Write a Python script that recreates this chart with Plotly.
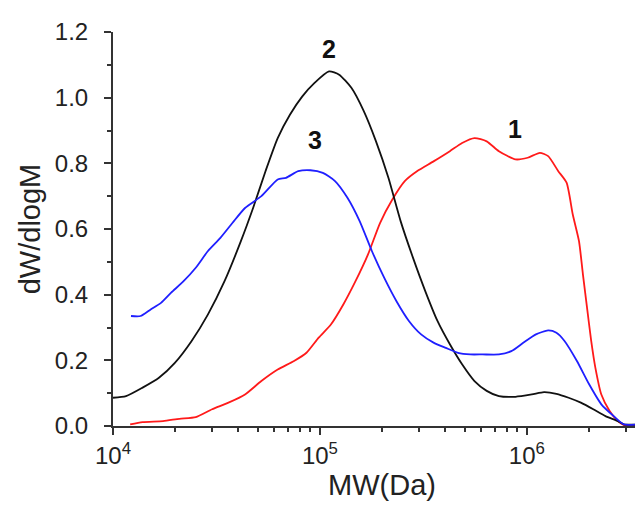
import plotly.graph_objects as go

# log10(MW) and dW/dlogM
logm_1 = [4.083, 4.143, 4.242, 4.321, 4.40, 4.479, 4.558, 4.638, 4.717, 4.796, 4.875, 4.935,
          4.994, 5.053, 5.113, 5.172, 5.232, 5.291, 5.350, 5.41, 5.469, 5.549, 5.628, 5.687,
          5.747, 5.806, 5.865, 5.945, 6.004, 6.063, 6.103, 6.152, 6.192, 6.222, 6.252, 6.271,
          6.291, 6.311, 6.331, 6.36, 6.40, 6.44, 6.469, 6.52, 6.578]
dw_1 = [0.005, 0.012, 0.015, 0.022, 0.027, 0.051, 0.071, 0.096, 0.137, 0.172, 0.198, 0.223,
        0.269, 0.309, 0.370, 0.441, 0.522, 0.619, 0.690, 0.746, 0.776, 0.806, 0.837, 0.862,
        0.877, 0.867, 0.837, 0.812, 0.817, 0.832, 0.822, 0.776, 0.741, 0.644, 0.563, 0.462,
        0.360, 0.259, 0.178, 0.096, 0.046, 0.015, 0.003, 0.003, 0.005]

logm_2 = [4.0, 4.063, 4.143, 4.222, 4.30, 4.38, 4.459, 4.539, 4.618, 4.677, 4.737, 4.796,
          4.855, 4.915, 4.974, 5.044, 5.093, 5.152, 5.212, 5.271, 5.331, 5.390, 5.450, 5.509,
          5.568, 5.628, 5.687, 5.747, 5.806, 5.865, 5.945, 6.024, 6.083, 6.143, 6.202, 6.261,
          6.321, 6.380, 6.44, 6.469, 6.538]
dw_2 = [0.086, 0.091, 0.117, 0.147, 0.193, 0.259, 0.340, 0.441, 0.563, 0.664, 0.776, 0.877,
        0.948, 1.004, 1.045, 1.080, 1.070, 1.030, 0.959, 0.867, 0.756, 0.624, 0.512, 0.411,
        0.320, 0.249, 0.188, 0.137, 0.107, 0.091, 0.089, 0.096, 0.103, 0.098, 0.086, 0.071,
        0.051, 0.030, 0.015, 0.005, 0.004]

logm_3 = [4.087, 4.133, 4.182, 4.232, 4.281, 4.341, 4.40, 4.459, 4.519, 4.578, 4.638, 4.717,
          4.796, 4.836, 4.895, 4.954, 5.014, 5.073, 5.133, 5.192, 5.251, 5.311, 5.370, 5.43,
          5.489, 5.549, 5.608, 5.667, 5.727, 5.786, 5.865, 5.925, 5.984, 6.044, 6.103, 6.143,
          6.182, 6.242, 6.301, 6.36, 6.42, 6.469, 6.538]
dw_3 = [0.335, 0.335, 0.355, 0.375, 0.406, 0.441, 0.482, 0.533, 0.573, 0.619, 0.664, 0.700,
        0.751, 0.756, 0.776, 0.779, 0.771, 0.746, 0.695, 0.624, 0.533, 0.451, 0.380, 0.320,
        0.279, 0.254, 0.238, 0.223, 0.218, 0.218, 0.218, 0.228, 0.254, 0.279, 0.291, 0.284,
        0.259, 0.198, 0.127, 0.066, 0.030, 0.005, 0.005]

series_names = ["1", "2", "3"]
series_colors = ["#ff1a1a", "#111111", "#1f1fff"]
label_logm = [5.942, 5.043, 4.976]
label_dw = [0.905, 1.148, 0.871]

x_tickvals = [1e4, 1e5, 1e6]
x_ticktext = ["10<sup>4</sup>", "10<sup>5</sup>", "10<sup>6</sup>"]
x_minor = [m * 10 ** d for d in (4, 5, 6) for m in range(2, 10) if m * 10 ** d < 4e6]
y_tickvals = [0.0, 0.2, 0.4, 0.6, 0.8, 1.0, 1.2]

FONT = "Liberation Sans, Arial"

fig = go.Figure()
for lm, dw, name, col in zip([logm_1, logm_2, logm_3], [dw_1, dw_2, dw_3], series_names, series_colors):
    fig.add_trace(go.Scatter(x=[10 ** v for v in lm], y=dw, mode="lines", name=name,
                             line=dict(color=col, width=1.8, shape="spline", smoothing=0.6),
                             showlegend=False))

for name, lx, ly in zip(series_names, label_logm, label_dw):
    fig.add_annotation(x=lx, y=ly, text="<b>%s</b>" % name, showarrow=False,
                       font=dict(family=FONT, size=25, color="#111111"))

axis_font = dict(family=FONT, size=24, color="#222222")
fig.update_layout(
    width=643, height=507,
    margin=dict(l=105, r=0, t=24, b=89),
    paper_bgcolor="white", plot_bgcolor="white",
    xaxis=dict(type="log", range=[4, 6.6], showgrid=False, zeroline=False,
               showline=True, linecolor="#333333", linewidth=2,
               tickmode="array", tickvals=x_tickvals, ticktext=x_ticktext,
               ticks="outside", ticklen=7, tickwidth=2, tickcolor="#333333",
               tickfont=axis_font,
               minor=dict(tickmode="array", tickvals=x_minor, ticks="outside",
                          ticklen=4, tickwidth=2, tickcolor="#333333", showgrid=False),
               title=dict(text="MW(Da)", standoff=7,
                          font=dict(family=FONT, size=29, color="#222222"))),
    yaxis=dict(range=[0, 1.2], showgrid=False, zeroline=False,
               showline=True, linecolor="#333333", linewidth=2,
               tickmode="array", tickvals=y_tickvals, tickformat=".1f",
               ticks="outside", ticklen=7, tickwidth=2, tickcolor="#333333",
               tickfont=axis_font, ticklabelstandoff=11,
               minor=dict(dtick=0.1, ticks="outside", ticklen=4, tickwidth=2,
                          tickcolor="#333333", showgrid=False),
               title=dict(text="dW/dlogM", standoff=6,
                          font=dict(family=FONT, size=29, color="#222222"))),
)

fig.write_html("out.html")
